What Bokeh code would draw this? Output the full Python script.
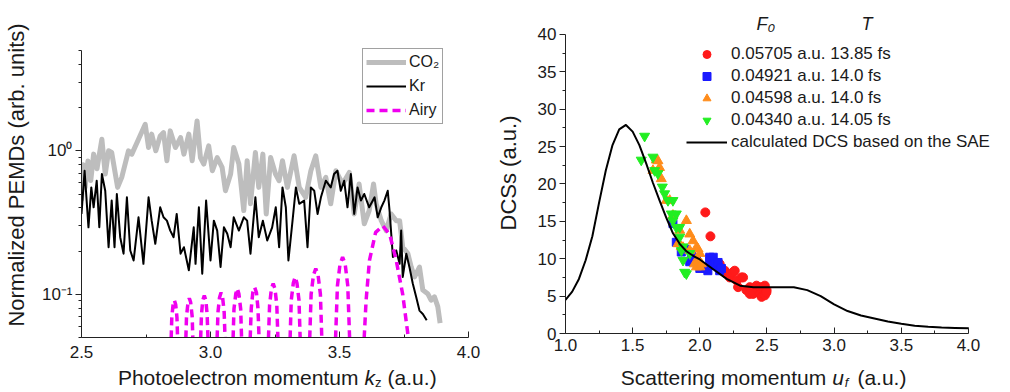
from bokeh.plotting import figure
from bokeh.layouts import row, column
from bokeh.models import (Range1d, FixedTicker, CustomJSTickFormatter, Legend,
                          LegendItem, Label)
from bokeh.core.properties import value
from bokeh.embed import file_html
from bokeh.resources import INLINE

NAN = float("nan")

# ---------------- left panel data: normalized PEMDs vs k_z ----------------
co2 = [(2.500, 0.45), (2.507, 0.80), (2.514, 0.556), (2.525, 0.85), (2.536, 0.62),
       (2.547, 0.948), (2.560, 0.75), (2.579, 1.205), (2.592, 0.689), (2.605, 1.00),
       (2.617, 0.973), (2.640, 0.556), (2.656, 0.653), (2.682, 1.00), (2.695, 0.948),
       (2.721, 1.205), (2.747, 1.53), (2.760, 1.054), (2.772, 1.306), (2.788, 1.00),
       (2.805, 1.27), (2.818, 1.34), (2.831, 0.852), (2.844, 1.377), (2.864, 1.054),
       (2.884, 1.237), (2.897, 0.948), (2.916, 1.306), (2.929, 0.852), (2.948, 1.616),
       (2.961, 0.898), (2.974, 0.808), (2.993, 1.083), (3.007, 0.726), (3.026, 0.898),
       (3.045, 0.766), (3.058, 0.527), (3.078, 0.689), (3.090, 1.054), (3.110, 0.808),
       (3.129, 0.383), (3.142, 0.852), (3.155, 0.427), (3.174, 0.973), (3.187, 0.556),
       (3.203, 0.948), (3.216, 0.363), (3.233, 0.898), (3.252, 0.689), (3.266, 0.619),
       (3.279, 0.852), (3.298, 0.556), (3.324, 0.923), (3.344, 0.556), (3.369, 0.474),
       (3.389, 0.726), (3.408, 0.923), (3.428, 0.556), (3.447, 0.653), (3.466, 0.427),
       (3.486, 0.726), (3.512, 0.587), (3.538, 0.707), (3.557, 0.363), (3.576, 0.587),
       (3.596, 0.310), (3.615, 0.383), (3.632, 0.587), (3.642, 0.427), (3.662, 0.326),
       (3.681, 0.278), (3.700, 0.363), (3.720, 0.326), (3.733, 0.326), (3.745, 0.213),
       (3.765, 0.192), (3.778, 0.155), (3.791, 0.132), (3.810, 0.155), (3.823, 0.107),
       (3.842, 0.101), (3.855, 0.091), (3.868, 0.096), (3.881, 0.082), (3.890, 0.063)]

kr = [(2.500, 0.363), (2.512, 0.726), (2.527, 0.293), (2.538, 0.556), (2.547, 0.404),
      (2.559, 0.619), (2.569, 0.293), (2.579, 0.689), (2.592, 0.527), (2.605, 0.213),
      (2.617, 0.450), (2.628, 0.213), (2.637, 0.500), (2.650, 0.250), (2.663, 0.192),
      (2.676, 0.474), (2.689, 0.202), (2.702, 0.172), (2.721, 0.344), (2.740, 0.163),
      (2.760, 0.474), (2.772, 0.326), (2.786, 0.225), (2.805, 0.404), (2.818, 0.344),
      (2.831, 0.326), (2.844, 0.278), (2.857, 0.250), (2.869, 0.363), (2.884, 0.192),
      (2.897, 0.213), (2.916, 0.147), (2.935, 0.293), (2.942, 0.163), (2.955, 0.404),
      (2.968, 0.139), (2.983, 0.450), (3.000, 0.172), (3.013, 0.326), (3.026, 0.278),
      (3.039, 0.155), (3.052, 0.293), (3.065, 0.264), (3.078, 0.213), (3.090, 0.344),
      (3.110, 0.278), (3.129, 0.344), (3.142, 0.326), (3.155, 0.192), (3.174, 0.474),
      (3.187, 0.250), (3.203, 0.326), (3.220, 0.237), (3.239, 0.293), (3.253, 0.404),
      (3.266, 0.213), (3.279, 0.556), (3.292, 0.404), (3.302, 0.172), (3.318, 0.326),
      (3.331, 0.556), (3.344, 0.427), (3.363, 0.450), (3.376, 0.213), (3.389, 0.556),
      (3.402, 0.527), (3.415, 0.363), (3.428, 0.474), (3.447, 0.619), (3.466, 0.556),
      (3.479, 0.689), (3.492, 0.726), (3.505, 0.527), (3.518, 0.619), (3.531, 0.404),
      (3.544, 0.689), (3.557, 0.363), (3.570, 0.556), (3.583, 0.450), (3.596, 0.500),
      (3.615, 0.404), (3.636, 0.474), (3.648, 0.344), (3.662, 0.404), (3.674, 0.450),
      (3.687, 0.527), (3.694, 0.383), (3.707, 0.182), (3.720, 0.202), (3.733, 0.163),
      (3.739, 0.278), (3.745, 0.132), (3.759, 0.192), (3.771, 0.155), (3.784, 0.119),
      (3.797, 0.096), (3.810, 0.077), (3.823, 0.073), (3.838, 0.066)]

airy_lobes = [
    [(2.846, .04), (2.850, .069), (2.855, .085), (2.860, .091), (2.865, .085), (2.870, .069), (2.874, .04)],
    [(2.903, .04), (2.907, .070), (2.913, .088), (2.918, .094), (2.923, .088), (2.929, .070), (2.933, .04)],
    [(2.960, .04), (2.965, .072), (2.970, .091), (2.976, .098), (2.982, .091), (2.987, .072), (2.992, .04)],
    [(3.024, .04), (3.029, .075), (3.035, .095), (3.041, .103), (3.047, .095), (3.053, .075), (3.058, .04)],
    [(3.086, .04), (3.091, .079), (3.098, .101), (3.104, .110), (3.110, .101), (3.117, .079), (3.122, .04)],
    [(3.152, .04), (3.158, .080), (3.164, .103), (3.171, .112), (3.178, .103), (3.184, .080), (3.190, .04)],
    [(3.223, .04), (3.229, .084), (3.236, .109), (3.243, .119), (3.250, .109), (3.257, .084), (3.263, .04)],
    [(3.307, .04), (3.313, .091), (3.321, .120), (3.328, .132), (3.335, .120), (3.343, .091), (3.349, .04)],
    [(3.383, .04), (3.390, .100), (3.399, .136), (3.408, .151), (3.417, .136), (3.426, .100), (3.433, .04)],
    [(3.483, .04), (3.492, .115), (3.502, .162), (3.512, .182), (3.522, .162), (3.532, .115), (3.541, .04)],
    [(3.593, .04), (3.603, .09), (3.616, .172), (3.640, .27), (3.668, .30), (3.695, .26),
     (3.720, .172), (3.745, .10), (3.770, .045)],
]

left_xticks = [2.5, 3.0, 3.5, 4.0]
left_xminor = [2.75, 3.25, 3.75]
left_yticks = [0.1, 1.0]
left_yminor = [0.05, 0.06, 0.07, 0.08, 0.09, 0.2, 0.3, 0.4, 0.5, 0.6, 0.7, 0.8, 0.9,
               2.0, 3.0, 4.0, 5.0]

# ---------------- right panel data: DCS vs scattering momentum ----------------
dcs_u = [1.0, 1.05, 1.1, 1.15, 1.2, 1.25, 1.3, 1.35, 1.4, 1.45, 1.5, 1.55, 1.6, 1.65,
         1.7, 1.75, 1.8, 1.85, 1.9, 1.95, 2.0, 2.1, 2.2, 2.3, 2.4, 2.5, 2.6, 2.7, 2.8,
         2.9, 3.0, 3.1, 3.2, 3.3, 3.4, 3.5, 3.6, 3.7, 3.8, 3.9, 4.0]
dcs_v = [4.5, 5.6, 7.3, 9.8, 13.0, 17.5, 21.8, 25.2, 27.3, 27.9, 27.0, 25.2, 22.8, 20.2,
         17.8, 15.5, 13.4, 12.0, 11.0, 10.4, 9.9, 8.6, 7.3, 6.4, 6.2, 6.2, 6.2, 6.2, 5.8,
         5.0, 3.9, 3.0, 2.4, 2.0, 1.6, 1.3, 1.05, 0.9, 0.8, 0.75, 0.7]

red_pts = [(2.041, 16.2), (2.079, 13.0), (2.148, 9.3), (2.186, 8.4), (2.198, 8.0),
           (2.223, 7.5), (2.248, 8.2), (2.26, 8.4), (2.273, 7.1), (2.285, 6.2),
           (2.31, 7.5), (2.322, 7.5), (2.347, 5.8), (2.372, 5.3), (2.372, 6.2),
           (2.397, 5.3), (2.41, 6.2), (2.422, 6.4), (2.447, 5.3), (2.447, 6.2),
           (2.46, 4.9), (2.471, 6.2), (2.484, 5.1), (2.484, 6.4), (2.497, 5.8), (2.496, 5.5)]
blue_pts = [(1.80, 14.7), (1.825, 12.2), (1.862, 10.9), (1.887, 11.3), (1.925, 9.6),
            (1.937, 10.7), (1.975, 9.8), (2.0, 8.7), (2.037, 8.9), (2.049, 8.7),
            (2.06, 8.4), (2.074, 10.0), (2.074, 10.2), (2.098, 9.1), (2.10, 10.2),
            (2.11, 9.3), (2.136, 8.9), (2.136, 9.5), (2.148, 8.4), (2.161, 8.7)]
orange_pts = [(1.651, 21.8), (1.676, 23.2), (1.688, 23.1), (1.70, 22.2), (1.713, 20.7),
              (1.751, 17.8), (1.776, 17.8), (1.80, 15.8), (1.837, 12.0), (1.85, 13.8),
              (1.862, 11.6), (1.875, 11.5), (1.90, 15.1), (1.925, 13.3), (1.925, 11.1),
              (1.95, 12.4), (1.96, 9.3), (1.975, 11.5), (1.975, 8.9), (1.987, 11.3),
              (1.987, 9.8), (2.0, 10.7), (2.0, 8.9), (2.012, 9.3)]
green_pts = [(1.564, 23.2), (1.589, 26.4), (1.651, 23.6), (1.664, 21.8), (1.688, 21.4),
             (1.721, 19.6), (1.738, 18.7), (1.763, 17.8), (1.788, 16.0), (1.80, 17.8),
             (1.80, 15.1), (1.825, 16.0), (1.825, 14.2), (1.85, 14.2), (1.85, 12.9),
             (1.863, 11.1), (1.875, 11.6), (1.875, 9.8), (1.887, 8.2), (1.90, 8.0),
             (1.925, 10.7)]

right_xticks = [1.0, 1.5, 2.0, 2.5, 3.0, 3.5, 4.0]
right_xminor = [1.25, 1.75, 2.25, 2.75, 3.25, 3.75]
right_yticks = [0, 5, 10, 15, 20, 25, 30, 35, 40]
right_yminor = [2.5, 7.5, 12.5, 17.5, 22.5, 27.5, 32.5, 37.5]

legend_labels = ["0.05705 a.u. 13.85 fs", "0.04921 a.u. 14.0 fs",
                 "0.04598 a.u. 14.0 fs", "0.04340 a.u. 14.05 fs",
                 "calculated DCS based on the SAE"]

FONT = "Liberation Sans"
TXT = "#1a1a1a"


def split(pts):
    return [p[0] for p in pts], [p[1] for p in pts]


def base_style(p):
    p.xgrid.grid_line_color = None
    p.ygrid.grid_line_color = None
    p.outline_line_color = None
    p.background_fill_color = "white"
    p.border_fill_color = "white"
    for ax in (p.xaxis[0], p.yaxis[0]):
        ax.axis_line_color = "#222222"
        ax.axis_line_width = 1
        ax.major_tick_line_color = "#222222"
        ax.minor_tick_line_color = "#222222"
        ax.major_label_text_font = FONT
        ax.major_label_text_font_size = "17px"
        ax.major_label_text_color = TXT
        ax.axis_label_text_font = FONT
        ax.axis_label_text_font_size = "22px"
        ax.axis_label_text_font_style = "normal"
        ax.axis_label_text_color = TXT
    xa, ya = p.xaxis[0], p.yaxis[0]
    xa.major_tick_in = 6
    xa.major_tick_out = 0
    xa.minor_tick_in = 3
    xa.minor_tick_out = 0
    ya.major_tick_in = 0
    ya.major_tick_out = 6
    ya.minor_tick_in = 0
    ya.minor_tick_out = 3
    ya.major_label_standoff = 3


# ======================= LEFT FIGURE =======================
# frame extends above the axis (axis bounded to 0.05..5) so the legend is not clipped
p1 = figure(width=492, height=365, x_range=Range1d(2.5, 4.0), y_range=Range1d(0.05, 9.2),
            y_axis_type="log", output_backend="svg", toolbar_location=None, title=None,
            min_border_left=73, min_border_right=24, min_border_top=12, min_border_bottom=28,
            frame_align=False)
base_style(p1)
p1.xaxis[0].ticker = FixedTicker(ticks=left_xticks, minor_ticks=left_xminor)
p1.xaxis[0].formatter = CustomJSTickFormatter(code="return tick.toFixed(1);")
p1.xaxis[0].major_label_standoff = 8
p1.yaxis[0].bounds = (0.05, 5.0)
p1.yaxis[0].ticker = FixedTicker(ticks=left_yticks, minor_ticks=left_yminor)
p1.yaxis[0].formatter = CustomJSTickFormatter(
    code="return Math.round(Math.log10(tick)) == 0 ? '10\u2070' : '10\u207b\u00b9';")
p1.yaxis[0].axis_label = "Normalized PEMDs (arb. units)"
p1.yaxis[0].axis_label_standoff = 10

ck, cv = split(co2)
kk, kv = split(kr)
ak, av = [], []
for lobe in airy_lobes:
    lk, lv = split(lobe)
    ak += lk + [NAN]
    av += lv + [NAN]

r_co2 = p1.line(ck, cv, line_color="#bdbdbd", line_width=5, line_join="round")
r_kr = p1.line(kk, kv, line_color="black", line_width=2, line_join="round")
r_airy = p1.line(ak, av, line_color="#f000f0", line_width=3.5, line_dash="8 5")

leg1 = Legend(items=[LegendItem(label="CO\u2082", renderers=[r_co2]),
                     LegendItem(label="Kr", renderers=[r_kr]),
                     LegendItem(label="Airy", renderers=[r_airy])],
              location=(281, 213), margin=0, padding=3, spacing=4,
              glyph_width=40, glyph_height=20, label_height=20, label_standoff=3,
              label_text_font=FONT, label_text_font_size="16px", label_text_color=TXT,
              border_line_color="#444444", border_line_width=1,
              background_fill_color="white", background_fill_alpha=1.0)
p1.add_layout(leg1)

# ======================= RIGHT FIGURE =======================
# frame extends above and right of the axes (axes bounded) so legend texts fit
p2 = figure(width=502, height=365, x_range=Range1d(1.0, 4.194), y_range=Range1d(0, 42.94),
            output_backend="svg", toolbar_location=None, title=None,
            min_border_left=66, min_border_right=0, min_border_top=12, min_border_bottom=32,
            frame_align=False)
base_style(p2)
p2.xaxis[0].bounds = (1.0, 4.0)
p2.xaxis[0].ticker = FixedTicker(ticks=right_xticks, minor_ticks=right_xminor)
p2.xaxis[0].formatter = CustomJSTickFormatter(code="return tick.toFixed(1);")
p2.xaxis[0].major_label_standoff = 5
p2.yaxis[0].bounds = (0, 40)
p2.yaxis[0].ticker = FixedTicker(ticks=right_yticks, minor_ticks=right_yminor)
p2.yaxis[0].axis_label = "DCSs (a.u.)"
p2.yaxis[0].axis_label_standoff = 14

rx, ry = split(red_pts)
bx, by = split(blue_pts)
ox, oy = split(orange_pts)
gx, gy = split(green_pts)

r_red = p2.scatter(rx, ry, marker="circle", size=9, fill_color="#ff1a1a", line_color="#ff1a1a")
r_blue = p2.scatter(bx, by, marker="square", size=8, fill_color="#1a1aff", line_color="#1a1aff")
r_orange = p2.scatter(ox, oy, marker="triangle", size=10, fill_color="#ff8c1a", line_color="#ff8c1a")
r_green = p2.scatter(gx, gy, marker="inverted_triangle", size=10, fill_color="#22ee22",
                     line_color="#22ee22")
r_dcs = p2.line(dcs_u, dcs_v, line_color="black", line_width=2, line_join="round")

leg2 = Legend(items=[LegendItem(label=legend_labels[0], renderers=[r_red]),
                     LegendItem(label=legend_labels[1], renderers=[r_blue]),
                     LegendItem(label=legend_labels[2], renderers=[r_orange]),
                     LegendItem(label=legend_labels[3], renderers=[r_green]),
                     LegendItem(label=legend_labels[4], renderers=[r_dcs])],
              location=(121, 181), margin=0, padding=2, spacing=2,
              glyph_width=41, glyph_height=20, label_height=20, label_standoff=4,
              label_text_font=FONT, label_text_font_size="17px", label_text_color=TXT,
              border_line_color=None, background_fill_alpha=0.0)
p2.add_layout(leg2)

# legend column headers (F0 and T)
for dx, txt in [(191, "F\u2080"), (296, "T")]:
    p2.add_layout(Label(x=1.0, y=40, x_offset=dx, y_offset=10, text=txt,
                        text_font=FONT, text_font_size="18px", text_font_style="italic",
                        text_color=TXT, text_baseline="middle"))

# ======================= STRIP WITH THE X-AXIS TITLES =======================
strip = figure(width=994, height=27, x_range=Range1d(0, 986), y_range=Range1d(0, 27),
               output_backend="svg", toolbar_location=None, title=None, min_border=0,
               x_axis_location=None, y_axis_location=None, frame_align=False)
strip.xgrid.grid_line_color = None
strip.ygrid.grid_line_color = None
strip.outline_line_color = None


def strip_text(x, y, txt, size="21px", style="normal", align="left"):
    strip.text(x=[x], y=[y], text=[txt], text_font=value(FONT), text_font_size=size,
               text_font_style=style, text_color=TXT, text_align=align,
               text_baseline="middle")


strip_text(355, 15, "Photoelectron momentum", align="right")
strip_text(361, 15, "k", style="italic")
strip_text(371.5, 10, "z", size="13px")
strip_text(384, 15, "(a.u.)")

strip_text(819, 15, "Scattering momentum", align="right")
strip_text(825, 15, "u", style="italic")
strip_text(837.5, 10, "f", size="13px", style="italic")
strip_text(850, 15, "(a.u.)")

layout = column(row(p1, p2), strip)
open("out.html", "w").write(file_html(layout, INLINE))
